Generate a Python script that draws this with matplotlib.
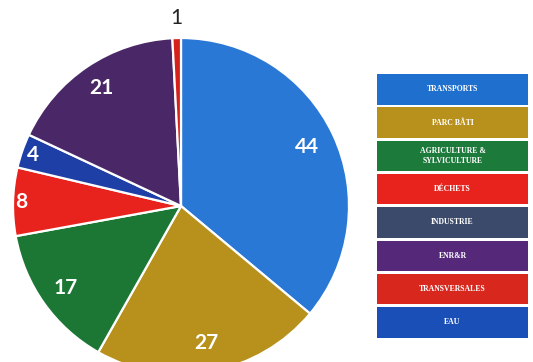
import numpy as np
import matplotlib
matplotlib.use('Agg')
import matplotlib.pyplot as plt
from matplotlib.patches import Rectangle

# pie slices (clockwise from top)
slice_values = [44, 27, 17, 8, 4, 21, 1]
slice_colors = ['#2a78d6', '#b8901c', '#1c7634', '#e8231d', '#1d3fa6', '#4a2868', '#d6201c']
slice_text_colors = ['white'] * 6 + ['#222222']

# legend entries (top to bottom)
legend_labels = ['TRANSPORTS', 'PARC BÂTI', 'AGRICULTURE &\nSYLVICULTURE', 'DÉCHETS',
                 'INDUSTRIE', 'ENR&R', 'TRANSVERSALES', 'EAU']
legend_colors = ['#1f6fcf', '#b8901c', '#1c7a3a', '#e8231d',
                 '#3b4a6a', '#55287a', '#d8281e', '#1b4fb8']

W, H = 533, 362
fig = plt.figure(figsize=(W / 100, H / 100), dpi=100)
ax = fig.add_axes([0, 0, 1, 1])

cx, cy, r = 181, H - 206, 168
wedges, _ = ax.pie(slice_values, colors=slice_colors, startangle=90, counterclock=False,
                   center=(cx, cy), radius=r, frame=True,
                   wedgeprops=dict(edgecolor='white', linewidth=1.6))
ax.set_xlim(0, W)
ax.set_ylim(0, H)
ax.set_aspect('equal')
ax.axis('off')

# label distance as fraction of radius
label_dist = [0.83, 0.83, 0.84, 0.95, 0.93, 0.85, 1.12]
for w, v, d, c in zip(wedges, slice_values, label_dist, slice_text_colors):
    ang = np.deg2rad((w.theta1 + w.theta2) / 2)
    ax.text(cx + d * r * np.cos(ang), cy + d * r * np.sin(ang), str(v),
            ha='center', va='center', fontsize=15, color=c,
            fontweight='bold' if c == 'white' else 'normal', family='Lato')

# legend boxes
x0, x1 = 377, 528
top, step, bh = H - 74, 33.3, 30.5
for i, (lab, col) in enumerate(zip(legend_labels, legend_colors)):
    y = top - i * step - bh
    ax.add_patch(Rectangle((x0, y), x1 - x0, bh, facecolor=col, edgecolor='none'))
    ax.text((x0 + x1) / 2, y + bh / 2, lab, ha='center', va='center', color='white',
            fontsize=5.6, fontweight='bold', family='Liberation Serif', linespacing=1.35)

fig.savefig('out.png', dpi=100)
